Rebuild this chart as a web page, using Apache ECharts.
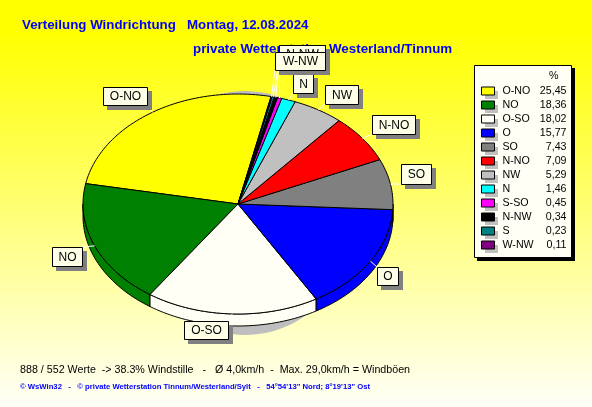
<!DOCTYPE html>
<html><head><meta charset="utf-8">
<style>html,body{margin:0;padding:0;background:#fff;overflow:hidden}#c{width:592px;height:407px}</style>
<script src="https://cdn.jsdelivr.net/npm/echarts@6/dist/echarts.min.js"></script>
</head><body><div id="c"></div>
<script>
const categories=['O-NO','NO','O-SO','O','SO','N-NO','NW','N','S-SO','N-NW','S','W-NW'];
const shares=[25.45,18.36,18.02,15.77,7.43,7.09,5.29,1.46,0.45,0.34,0.23,0.11];
const shareLabels=['25,45','18,36','18,02','15,77','7,43','7,09','5,29','1,46','0,45','0,34','0,23','0,11'];
const titleLine1='Verteilung Windrichtung   Montag, 12.08.2024';
const titleLine2='private Wetterstation Westerland/Tinnum';
const footerLine1='888 / 552 Werte  -> 38.3% Windstille   -   Ø 4,0km/h  -  Max. 29,0km/h = Windböen';
const footerLine2='© WsWin32   -   © private Wetterstation Tinnum/Westerland/Sylt   -   54°54\'13" Nord; 8°19\'13" Ost';

const colors=['#FFFF00','#008000','#FFFFF5','#0000FF','#808080','#FF0000','#C0C0C0','#00FFFF','#FF00FF','#000000','#008080','#800080'];
const geo={cx:238,cy:204,rx:155,ry:110,depth:12,endDeg:12.3};
const legendBox={x:474,y:65,w:97,h:192,rowsTop:84,rowH:14,swatchX:481,swatchW:13,swatchH:8};
const labelOrder=['O-NO','NO','O-SO','O','SO','N-NO','NW','N','S','S-SO','N-NW','W-NW'];
const labelBoxes={
 'O-NO':[103,87,44,18],'NO':[52,247,30,19],'O-SO':[184,321,44,18],'O':[377,267,21,18],
 'SO':[401,164,30,20],'N-NO':[372,115,43,19],'NW':[325,85,33,19],'N':[293,74,20,19],
 'S-SO':[279,45,46,18],'N-NW':[279,45,46,18],'S':[279,45,46,18],'W-NW':[275,52,50,18]};

const total=shares.reduce((a,b)=>a+b,0);
function range(i){
  let after=0; for(let k=0;k<i;k++) after+=shares[k];
  const end=geo.endDeg-after/total*360;
  return [end-shares[i]/total*360,end];
}
const pt=(t,dy)=>{const r=t*Math.PI/180;return [geo.cx+geo.rx*Math.sin(r),geo.cy-geo.ry*Math.cos(r)+(dy||0)];};
function arc(a,b,dy){const n=Math.max(2,Math.ceil(Math.abs(b-a)/1.5));const p=[];for(let j=0;j<=n;j++)p.push(pt(a+(b-a)*j/n,dy));return p;}

function sliceItem(i){
  return function(params,api){
    const [a,b]=range(i);
    const kids=[];
    for(const off of [-720,-360,0,360]){
      const lo=Math.max(a+off,90),hi=Math.min(b+off,270);
      if(hi>lo){
        kids.push({type:'polygon',shape:{points:arc(lo,hi,0).concat(arc(hi,lo,geo.depth))},
          style:{fill:colors[i],stroke:'#000',lineWidth:1}});
      }
    }
    kids.push({type:'polygon',shape:{points:[[geo.cx,geo.cy]].concat(arc(a,b,0))},
      style:{fill:colors[i],stroke:'#000',lineWidth:1}});
    return {type:'group',children:kids};
  };
}
function shadowItem(){
  return {type:'ellipse',shape:{cx:245,cy:213,rx:112,ry:122},style:{fill:'#BEBEBE'}};
}
function legendBackItem(){
  const b=legendBox, kids=[
    {type:'rect',shape:{x:b.x+3,y:b.y+3,width:b.w+1,height:b.h+1},style:{fill:'#000'}},
    {type:'rect',shape:{x:b.x+.5,y:b.y+.5,width:b.w,height:b.h},style:{fill:'#FFFFF5',stroke:'#000',lineWidth:1}}
  ];
  categories.forEach((n,i)=>kids.push({type:'rect',
    shape:{x:b.swatchX+4,y:b.rowsTop+i*b.rowH+3+4,width:b.swatchW,height:b.swatchH},style:{fill:'#C0C0C0'}}));
  return {type:'group',children:kids};
}
function labelItem(params,api){
  const name=labelOrder[params.dataIndex], i=categories.indexOf(name), [x,y,w,h]=labelBoxes[name];
  const [a,b]=range(i), m=pt((a+b)/2);
  const tx=Math.max(x,Math.min(x+w,m[0])), ty=Math.max(y,Math.min(y+h,m[1]));
  return {type:'group',children:[
    {type:'line',shape:{x1:m[0],y1:m[1],x2:tx,y2:ty},style:{stroke:'#fff',lineWidth:1}},
    {type:'rect',shape:{x:x+4,y:y+4,width:w+1,height:h+1},style:{fill:'#808080'}},
    {type:'rect',shape:{x:x+.5,y:y+.5,width:w,height:h},style:{fill:'#FFFFE8',stroke:'#000',lineWidth:1}},
    {type:'text',style:{x:x+w/2+.5,y:y+h/2+1,text:name,fill:'#000',font:'12px "Liberation Sans"',align:'center',verticalAlign:'middle'}}
  ]};
}
const series=[
  {type:'custom',name:'Schatten',coordinateSystem:'none',z:1,silent:true,data:[1],renderItem:shadowItem},
  {type:'custom',name:'Legendenfeld',coordinateSystem:'none',z:1,silent:true,data:[1],renderItem:legendBackItem}
];
categories.forEach((n,i)=>series.push({type:'custom',name:n,coordinateSystem:'none',z:2,silent:true,
  data:[shares[i]],itemStyle:{color:colors[i]},renderItem:sliceItem(i)}));
series.push({type:'custom',name:'Beschriftung',coordinateSystem:'none',z:10,silent:true,
  data:labelOrder.map(n=>[shares[categories.indexOf(n)]]),renderItem:labelItem});

const chart=echarts.init(document.getElementById('c'),null,{renderer:'canvas'});
chart.setOption({
  animation:false,
  backgroundColor:{type:'linear',x:0,y:0,x2:0,y2:1,colorStops:[{offset:0,color:'#FFFF00'},{offset:.08,color:'#FFFF00'},{offset:1,color:'#FFFFF8'}]},
  title:[
   {text:titleLine1,left:22,top:19,padding:0,textStyle:{color:'#0000FF',fontFamily:'Liberation Sans',fontWeight:'bold',fontSize:13.33}},
   {text:titleLine2,left:193,top:43,padding:0,textStyle:{color:'#0000FF',fontFamily:'Liberation Sans',fontWeight:'bold',fontSize:13.33}},
   {text:footerLine1,left:20,top:365,padding:0,textStyle:{color:'#000',fontFamily:'Liberation Sans',fontWeight:'normal',fontSize:10.7}},
   {text:footerLine2,left:20,top:383,padding:0,textStyle:{color:'#0000FF',fontFamily:'Liberation Sans',fontWeight:'bold',fontSize:7.7}}
  ],
  legend:{
    left:474,top:65,orient:'vertical',icon:'rect',selectedMode:false,
    data:categories,itemWidth:13,itemHeight:8,itemGap:0,padding:[19,5,5,7],
    itemStyle:{borderColor:'#000',borderWidth:1},
    formatter:n=>'{n|'+n+'}{v|'+shareLabels[categories.indexOf(n)]+'}',
    textStyle:{padding:[0,0,0,0],rich:{
      n:{fontFamily:'Liberation Sans',fontSize:10.67,color:'#000',width:36,padding:[0,0,0,3],lineHeight:14,height:14},
      v:{fontFamily:'Liberation Sans',fontSize:10.67,color:'#000',width:28,align:'right',lineHeight:14,height:14}}}
  },
  graphic:[{type:'text',z:20,left:549,top:71,style:{text:'%',fill:'#000',font:'10.67px "Liberation Sans"'}}],
  series
});
</script></body></html>
